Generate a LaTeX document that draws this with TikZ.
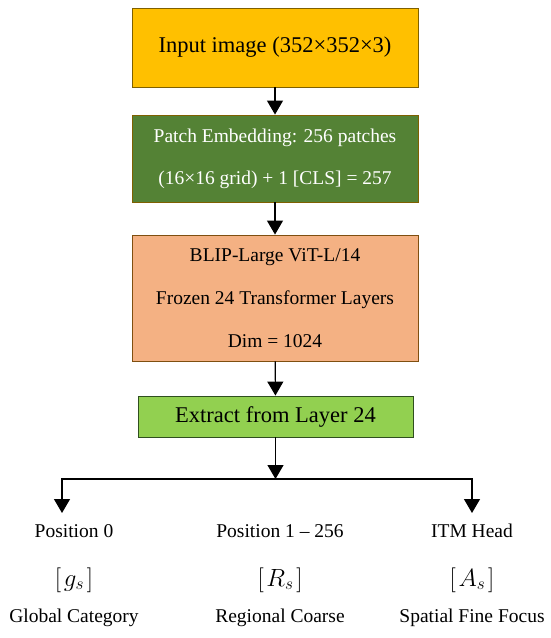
\documentclass[tikz,border=0pt]{standalone}
\usepackage{fontspec}
\setmainfont{Liberation Serif}
\usetikzlibrary{arrows.meta}

\definecolor{inputfill}{HTML}{FFC000}
\definecolor{inputdraw}{HTML}{7F6000}
\definecolor{patchfill}{HTML}{548235}
\definecolor{patchdraw}{HTML}{7F6000}
\definecolor{vitfill}{HTML}{F4B183}
\definecolor{vitdraw}{HTML}{7F4F10}
\definecolor{extractfill}{HTML}{92D050}
\definecolor{extractdraw}{HTML}{2F4F1F}

\begin{document}
\begin{tikzpicture}[x=1pt, y=-1pt,
    block/.style={rectangle, draw, line width=0.9pt, minimum width=286pt, align=center, inner sep=0pt},
    arr/.style={line width=1.2pt, -{Triangle[width=16pt,length=14pt]}},
    lbl/.style={font=\rmfamily\fontsize{19.5}{23}\selectfont, inner sep=0pt}]

    \useasboundingbox (0,0) rectangle (550,638);

    % Draw the pipeline blocks
    \node[block, fill=inputfill, draw=inputdraw, minimum height=79pt, font=\fontsize{22.5}{27}\selectfont] (input) at (275,47.5) {Input image (352×352×3)};
    \node[block, fill=patchfill, draw=patchdraw, text=white, minimum height=87pt, font=\fontsize{19.5}{42}\selectfont] (patch) at (275,158.5) {Patch Embedding: 256 patches\\(16×16 grid) + 1 [CLS] = 257};
    \node[block, fill=vitfill, draw=vitdraw, minimum height=126pt, font=\fontsize{19.5}{43}\selectfont] (vit) at (275,298) {BLIP-Large ViT-L/14\\Frozen 24 Transformer Layers\\Dim = 1024};
    \node[block, fill=extractfill, draw=extractdraw, minimum width=275pt, minimum height=41pt, font=\fontsize{22.5}{27}\selectfont] (extract) at (275.5,416.5) {Extract from Layer 24};

    % Arrows between the blocks
    \draw[arr] (input) -- (patch);
    \draw[arr] (patch) -- (vit);
    \draw[arr] (vit) -- (extract);

    % Split into the three outputs
    \coordinate (split) at (extract.south |- 0,479);
    \coordinate (splitL) at (62,479);
    \coordinate (splitR) at (472,479);
    \coordinate (tipL) at (62,513);
    \coordinate (tipR) at (472,513);
    \draw[arr] (extract) -- (split);
    \draw[line width=1.2pt, line cap=rect] (splitL) -- (splitR);
    \draw[arr] (splitL) -- (tipL);
    \draw[arr] (splitR) -- (tipR);

    % Output labels
    \foreach \i/\x/\postxt/\symtxt/\captxt in {1/74/Position 0/g_s/Global Category, 2/280/Position 1 – 256/R_s/Regional Coarse, 3/472/ITM Head/A_s/Spatial Fine Focus} {
        \node[lbl] (pos\i) at (\x,531) {\postxt};
        \node[lbl, font=\fontsize{24}{28}\selectfont] (sym\i) at (\x,580) {$[\mkern2mu\symtxt\mkern2mu]$};
        \node[lbl] (cap\i) at (\x,618) {\captxt};
    }
\end{tikzpicture}
\end{document}
